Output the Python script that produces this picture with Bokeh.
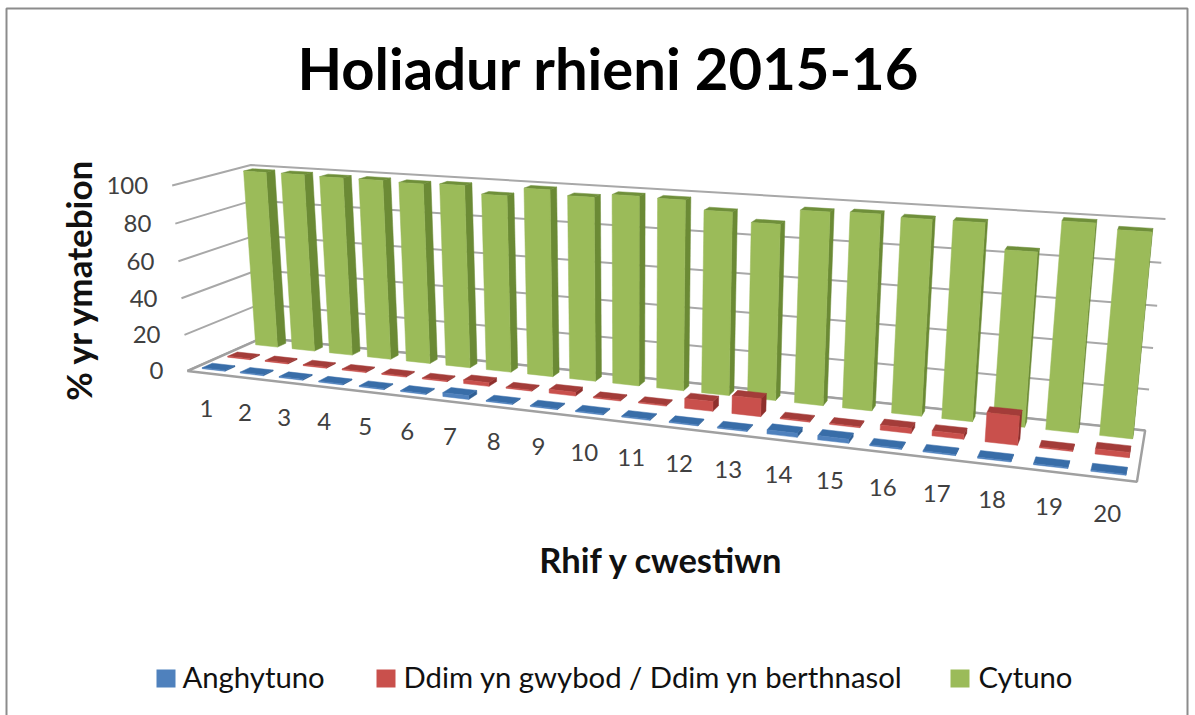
import numpy as np
from bokeh.plotting import figure
from bokeh.models import Range1d
from bokeh.core.properties import value
from bokeh.embed import file_html
from bokeh.resources import INLINE

title = "Holiadur rhieni 2015-16"
xlabel = "Rhif y cwestiwn"
ylabel = "% yr ymatebion"
questions = [str(i) for i in range(1, 21)]
yticks = [0, 20, 40, 60, 80, 100]
series = ["Anghytuno", "Ddim yn gwybod / Ddim yn berthnasol", "Cytuno"]
anghytuno = [0.5, 0.5, 0.5, 0.5, 0.5, 0.5, 2, 0.5, 0.5, 0.5, 0.5, 0.5, 0.5, 2, 2, 0.5, 0.5, 0.5, 0.5, 0.5]
ddim = [0.5, 0.5, 0.5, 0.5, 0.5, 0.5, 2, 0.5, 2, 0.5, 0.5, 5, 9, 0.5, 0.5, 2.5, 2.5, 14, 0.5, 2.5]
cytuno = [99, 99, 98.5, 98.5, 98, 98.5, 94.5, 99, 96.5, 98.5, 98, 93.5, 89, 96.5, 97, 96, 96, 84, 99, 96.5]

FONT = "Lato"
W, H = 1195, 715
OX, OY = 0, 0

# camera: world (u, v, w) to reference pixels, fitted from the box corners
world = np.array([[0,1,0],[0,1,100],[20,1,0],[20,1,100],[0,0,0],[0,0,100],[20,0,0]], float)
pix = np.array([[262,338],[250,165],[1145,428],[1165,219],[187,370],[172,184],[1136,483]], float)
A = []
for (a, b, c), (x, y) in zip(world, pix):
    A.append([a, b, c, 1, 0, 0, 0, 0, -x*a, -x*b, -x*c, -x])
    A.append([0, 0, 0, 0, a, b, c, 1, -y*a, -y*b, -y*c, -y])
P = np.linalg.svd(np.array(A))[2][-1].reshape(3, 4)

def proj(u, v, w):
    h = P @ np.array([u, v, w, 1.0])
    return float(h[0] / h[2]), float(h[1] / h[2])

p = figure(width=W, height=H, output_backend="svg", toolbar_location=None,
           x_range=Range1d(OX, OX + W), y_range=Range1d(OY + H, OY), min_border=0,
           outline_line_color=None)
p.axis.visible = False
p.grid.visible = False

# chart frame
p.line([6, 6, 1187, 1187], [715, 8, 8, 715], line_color="#8c8c8c", line_width=2)

GRID = "#a8a8a8"
for t in yticks:
    a, b, c = proj(0, 0, t), proj(0, 1, t), proj(20, 1, t)
    p.line([a[0], b[0], c[0]], [a[1], b[1], c[1]], line_color=GRID, line_width=2)
fl = [proj(0, 0, 0), proj(20, 0, 0), proj(20, 1, 0), proj(0, 1, 0)]
p.patch([q[0] for q in fl], [q[1] for q in fl], fill_color="white", line_color="#a0a0a0", line_width=2.5)

STYLES = [
    ("#4f81bd", "#2f5f94", "#386da8"),
    ("#c9504c", "#8e2f2c", "#a33c39"),
    ("#9bbb59", "#6b8a35", "#6f8f3a"),
]
DEPTH = [(0.09, 0.22), (0.42, 0.55), (0.80, 0.92)]

def face(pts, color):
    p.patch([q[0] for q in pts], [q[1] for q in pts], fill_color=color, line_color=color, line_width=0.5)

for s, vals in reversed(list(enumerate([anghytuno, ddim, cytuno]))):
    front, side, top = STYLES[s]
    v0, v1 = DEPTH[s]
    for i, val in enumerate(vals):
        u0, u1 = i + 0.2, i + 0.8
        a, b = proj(u0, v0, 0), proj(u1, v0, 0)
        c, d = proj(u1, v0, val), proj(u0, v0, val)
        e, f = proj(u1, v1, 0), proj(u1, v1, val)
        g, h = proj(u0, v1, 0), proj(u0, v1, val)
        if e[0] > b[0]:
            face([b, e, f, c], side)
        if g[0] < a[0]:
            face([a, g, h, d], side)
        face([d, c, f, h], top)
        face([a, b, c, d], front)

def txt(x, y, s, size, bold=False, align="center", angle=0, color="#111111"):
    p.text([x], [y], text=[s], text_font=value(FONT), text_font_size=value(f"{size}px"),
           text_font_style="bold" if bold else "normal", text_align=align,
           text_baseline="middle", angle=angle, text_color=color)

txt(608, 67, title, 58, True, color="#000000")
txt(661, 559, xlabel, 34.5, True)
txt(77, 279, ylabel, 35, True, angle=np.pi / 2)

for t in yticks:
    x, y = proj(0, 0, t)
    txt(x - 24, y, str(t), 24, color="#404040", align="right")
for i, q in enumerate(questions):
    x, y = proj(i + 0.5, 0, 0)
    txt(x, y + 35, q, 24, color="#404040")

LEG = [(156, 182), (376, 403), (950, 978)]
for (a, b), name, st in zip(LEG, series, STYLES):
    p.quad(left=[a], right=[a + 19], top=[669], bottom=[687], fill_color=st[0], line_color=None)
    txt(b, 676, name, 29.3, align="left")

open("out.html", "w").write(file_html(p, INLINE))
